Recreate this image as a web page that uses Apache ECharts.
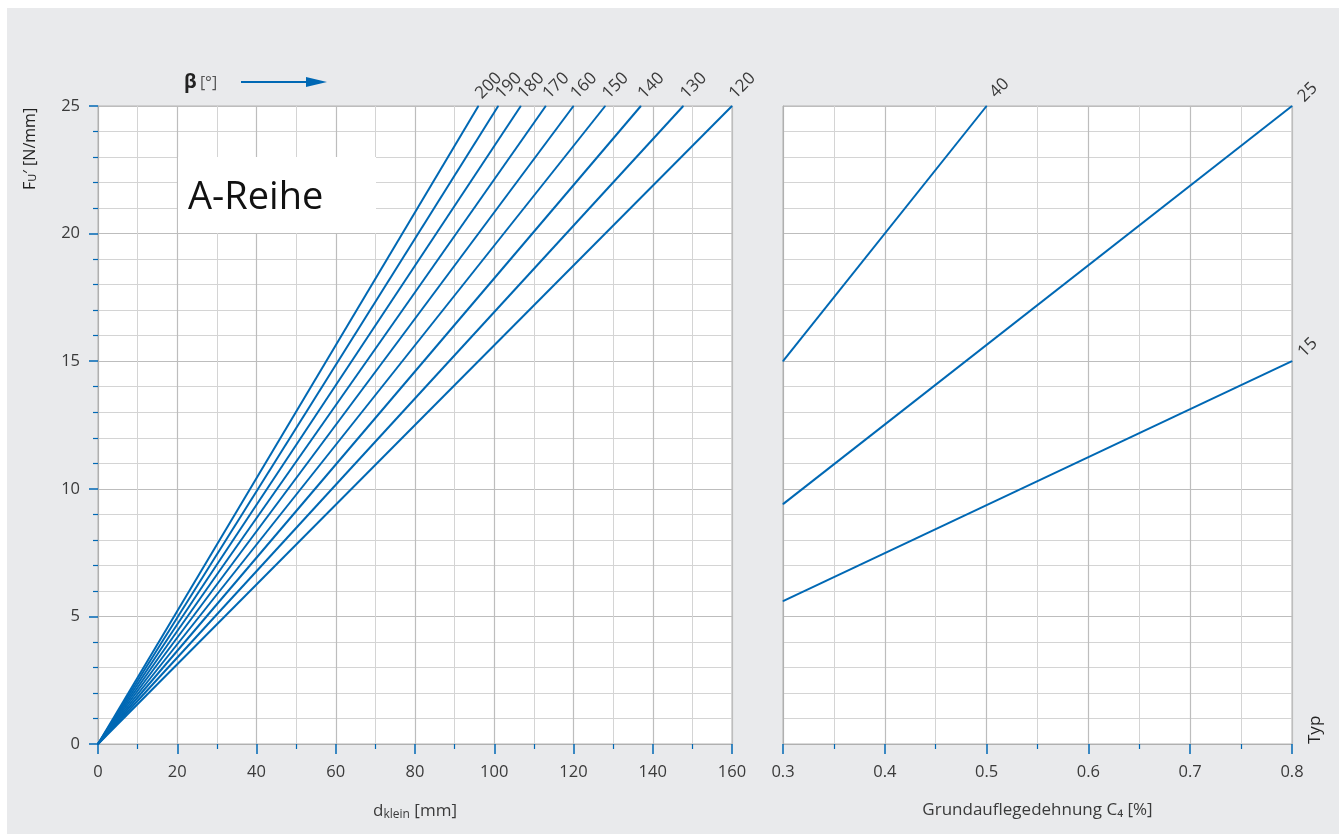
<!DOCTYPE html>
<html>
<head>
<meta charset="utf-8">
<script src="https://cdn.jsdelivr.net/npm/echarts@6/dist/echarts.min.js"></script>
<style>
  html, body { margin: 0; padding: 0; background: #ffffff; }
  #bg { position: absolute; left: 7px; top: 8px; width: 1332px; height: 826px; background: #e9eaec; }
  #chart { position: absolute; left: 0; top: 0; width: 1339px; height: 834px; }
</style>
</head>
<body>
<div id="bg"></div>
<div id="chart"></div>
<script>
// ---- Data ----
// Left panel: lines through origin, one per belt angle beta [°]
const betaLabels = ['200', '190', '180', '170', '160', '150', '140', '130', '120'];
// d_klein [mm] at which each line reaches F = 25 N/mm
const dAtTop = [96, 101, 106.7, 113, 120, 128, 137, 147.7, 160];
const fTop = 25;

// Right panel: one line per Typ
const typLabels = ['40', '25', '15'];
const c4Start = [0.3, 0.3, 0.3];
const fStart = [15, 9.4, 5.6];
const c4End = [0.5, 0.8, 0.8];
const fEnd = [25, 25, 15];

// Axis tick values
const leftXTicks = [0, 20, 40, 60, 80, 100, 120, 140, 160];
const rightXTicks = [0.3, 0.4, 0.5, 0.6, 0.7, 0.8];
const yTicks = [0, 5, 10, 15, 20, 25];

// ---- Styling ----
const BLUE = '#0068b4';
const FONT = 'Open Sans';
const TXT = '#3a3a3a';
const MAJOR = '#bdbdbd';
const MINOR = '#d4d4d4';

const chart = echarts.init(document.getElementById('chart'), null, { renderer: 'canvas' });

function endLabelCfg(text, offset) {
  return {
    show: true,
    formatter: text,
    position: 'inside',
    rotate: 45,
    align: 'left',
    verticalAlign: 'bottom',
    offset: offset,
    color: TXT,
    fontFamily: FONT,
    fontSize: 17
  };
}

const series = [];
betaLabels.forEach((b, i) => {
  series.push({
    type: 'line',
    name: 'beta ' + b,
    xAxisIndex: 0, yAxisIndex: 0,
    data: [
      { value: [0, 0] },
      { value: [dAtTop[i], fTop], label: endLabelCfg(b, [7, 1.5]) }
    ],
    showSymbol: true,
    symbol: 'circle',
    symbolSize: 1,
    itemStyle: { color: BLUE },
    lineStyle: { color: BLUE, width: 2 },
    label: { show: false },
    silent: true,
    animation: false,
    z: 3
  });
});
typLabels.forEach((t, i) => {
  const off = (c4End[i] >= 0.8) ? [11, 10] : [12, 5];
  series.push({
    type: 'line',
    name: 'Typ ' + t,
    xAxisIndex: 1, yAxisIndex: 1,
    data: [
      { value: [c4Start[i], fStart[i]] },
      { value: [c4End[i], fEnd[i]], label: endLabelCfg(t, off) }
    ],
    showSymbol: true,
    symbol: 'circle',
    symbolSize: 1,
    itemStyle: { color: BLUE },
    lineStyle: { color: BLUE, width: 2 },
    label: { show: false },
    silent: true,
    animation: false,
    z: 3
  });
});

function yAxisCfg(idx, showLabels) {
  return {
    type: 'value',
    gridIndex: idx,
    min: yTicks[0], max: yTicks[yTicks.length - 1], interval: 5,
    axisLine: { show: true, lineStyle: { color: '#b0b0b0', width: 1 } },
    axisTick: { show: showLabels, length: 9, lineStyle: { color: BLUE, width: 1.5 } },
    minorTick: { show: showLabels, splitNumber: 5, length: 5, lineStyle: { color: BLUE, width: 1.2 } },
    axisLabel: { show: showLabels, color: TXT, fontFamily: FONT, fontSize: 16.5, margin: 18 },
    splitLine: { show: true, lineStyle: { color: MAJOR, width: 1.2 } },
    minorSplitLine: { show: true, lineStyle: { color: MINOR, width: 1 } }
  };
}

const option = {
  backgroundColor: 'transparent',
  animation: false,
  grid: [
    { left: 98, right: 607, top: 106, bottom: 90, show: true, backgroundColor: '#ffffff', borderColor: '#b4b4b4', borderWidth: 1, containLabel: false },
    { left: 783, right: 47, top: 106, bottom: 90, show: true, backgroundColor: '#ffffff', borderColor: '#b4b4b4', borderWidth: 1, containLabel: false }
  ],
  xAxis: [
    {
      type: 'value', gridIndex: 0,
      min: leftXTicks[0], max: leftXTicks[leftXTicks.length - 1], interval: 20,
      axisLine: { show: true, lineStyle: { color: '#b0b0b0', width: 1 } },
      axisTick: { show: true, length: 10, lineStyle: { color: BLUE, width: 1.5 } },
      minorTick: { show: true, splitNumber: 2, length: 5, lineStyle: { color: BLUE, width: 1.2 } },
      axisLabel: { color: TXT, fontFamily: FONT, fontSize: 16.5, margin: 20 },
      splitLine: { show: true, lineStyle: { color: MAJOR, width: 1.2 } },
      minorSplitLine: { show: true, lineStyle: { color: MINOR, width: 1 } },
      name: 'd{sub|klein} [mm]',
      nameLocation: 'middle',
      nameGap: 58,
      nameTextStyle: {
        color: TXT, fontFamily: FONT, fontSize: 17,
        rich: { sub: { fontSize: 12, fontFamily: FONT, color: TXT, verticalAlign: 'bottom', padding: [7, 0, 0, 0] } }
      }
    },
    {
      type: 'value', gridIndex: 1,
      min: rightXTicks[0], max: rightXTicks[rightXTicks.length - 1], interval: 0.1,
      axisLine: { show: true, lineStyle: { color: '#b0b0b0', width: 1 } },
      axisTick: { show: true, length: 10, lineStyle: { color: BLUE, width: 1.5 } },
      minorTick: { show: true, splitNumber: 2, length: 5, lineStyle: { color: BLUE, width: 1.2 } },
      axisLabel: { color: TXT, fontFamily: FONT, fontSize: 16.5, margin: 20, formatter: v => v.toFixed(1) },
      splitLine: { show: true, lineStyle: { color: MAJOR, width: 1.2 } },
      minorSplitLine: { show: true, lineStyle: { color: MINOR, width: 1 } },
      name: 'Grundauflegedehnung C\u2084 [%]',
      nameLocation: 'middle',
      nameGap: 58,
      nameTextStyle: { color: TXT, fontFamily: FONT, fontSize: 17 }
    }
  ],
  yAxis: [yAxisCfg(0, true), yAxisCfg(1, false)],
  series: series,
  graphic: [
    // A-Reihe box
    { type: 'rect', z: 10, shape: { x: 178, y: 157, width: 198, height: 76 }, style: { fill: '#ffffff' } },
    { type: 'text', z: 11, x: 188, y: 198, style: { text: 'A-Reihe', fontFamily: FONT, fontSize: 38, fill: '#111111', textVerticalAlign: 'middle', textAlign: 'left' } },
    // beta header
    { type: 'text', z: 11, x: 184, y: 83, style: {
        text: '{b|\u03b2} {u|[°]}', textVerticalAlign: 'middle', textAlign: 'left',
        rich: { b: { fontFamily: FONT, fontWeight: 'bold', fontSize: 19, fill: '#222222', color: '#222222' },
                u: { fontFamily: FONT, fontSize: 16, fill: '#555555', color: '#555555' } } } },
    { type: 'line', z: 11, shape: { x1: 241, y1: 82, x2: 312, y2: 82 }, style: { stroke: BLUE, lineWidth: 2 } },
    { type: 'polygon', z: 11, shape: { points: [[306, 77], [327, 82], [306, 87]] }, style: { fill: BLUE } },
    // y axis name
    { type: 'text', z: 11, x: 30, y: 190, rotation: Math.PI / 2, style: {
        text: 'F{sub|U}\u2032 [N/mm]', textAlign: 'left', textVerticalAlign: 'middle',
        fontFamily: FONT, fontSize: 16, fill: '#222222',
        rich: { sub: { fontFamily: FONT, fontSize: 11, fill: '#222222', color: '#222222', verticalAlign: 'bottom', padding: [6, 0, 0, 0] } } } },
    // Typ
    { type: 'text', z: 11, x: 1315, y: 744, rotation: Math.PI / 2, style: {
        text: 'Typ', textAlign: 'left', textVerticalAlign: 'middle',
        fontFamily: FONT, fontSize: 17, fill: '#222222' } }
  ]
};
chart.setOption(option);
</script>
</body>
</html>
